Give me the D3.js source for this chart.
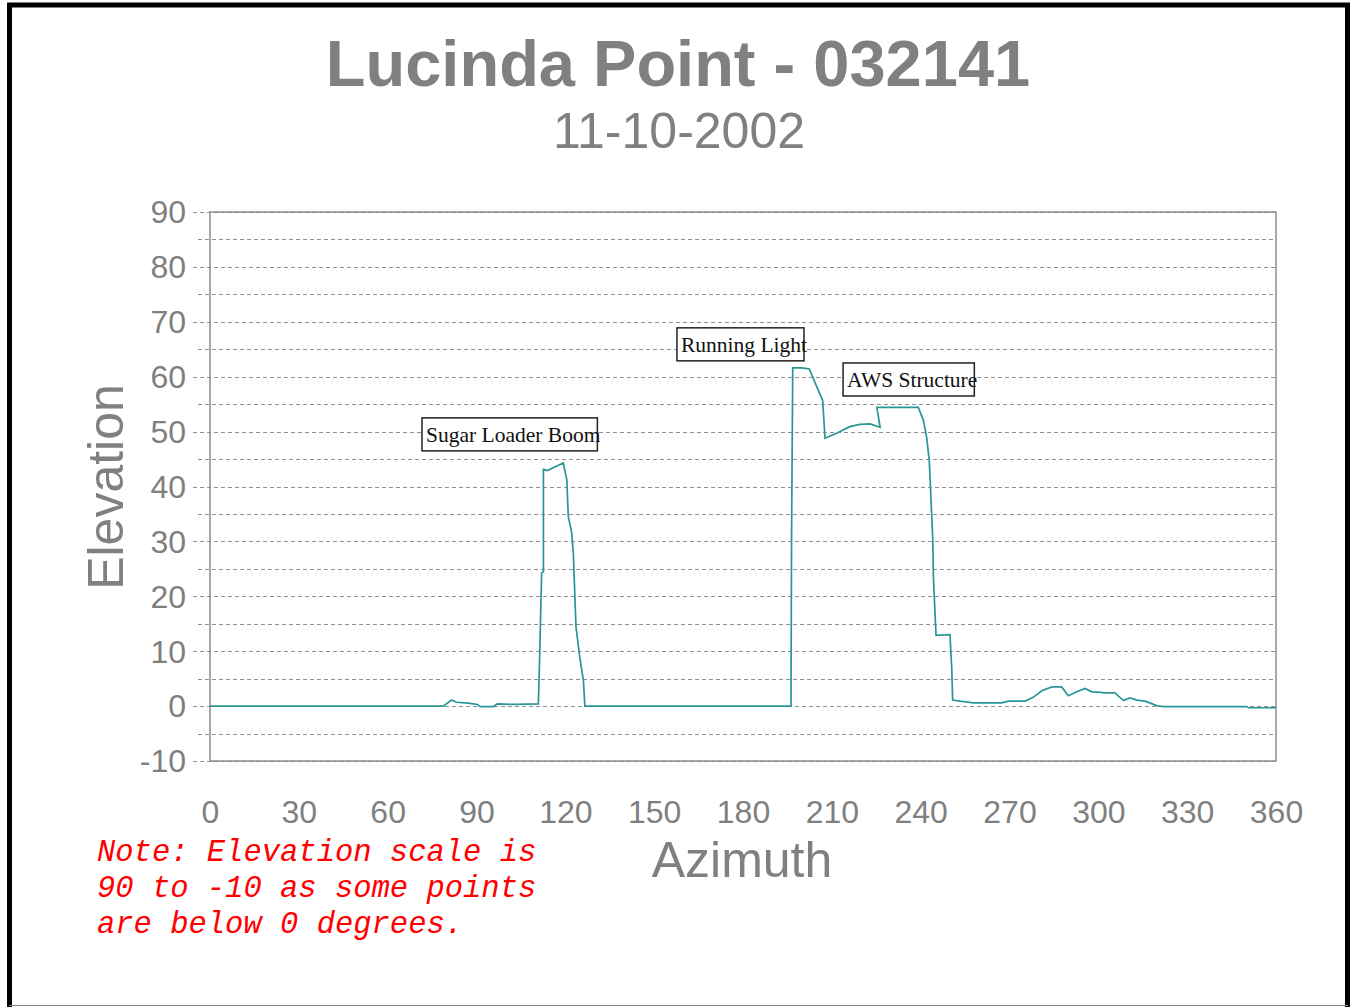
<!DOCTYPE html>
<html lang="en">
<head>
  <meta charset="UTF-8" />
  <title>Lucinda Point - 032141</title>
  <style>
    body { margin: 0; background: #fff; }
    svg { display: block; }
    .tick text { font-family: 'Liberation Sans', Arial, sans-serif; fill: #7f7f7f; }
    .grid { stroke: #8f8f8f; stroke-width: 1; stroke-dasharray: 4,3; }
    .frame { fill: none; stroke: #8c8c8c; stroke-width: 1.5; }
    .profile { fill: none; stroke: #2a9595; stroke-width: 1.7; }
    .label-box { fill: #fff; stroke: #222; stroke-width: 1.5; }
    .label-text { font-family: 'Liberation Serif', 'Times New Roman', serif; font-size: 21.5px; fill: #111; }
  </style>
  <script src="https://cdn.jsdelivr.net/npm/d3@7"></script>
</head>
<body>
<svg id="chart"></svg>
<script>
  // horizon profile, azimuth (deg) vs elevation (deg)
  const azimuth = [0, 78.8, 81.6, 83.3, 87.2, 90.3, 91.2, 95.7, 97, 103, 110.9, 111.2, 112, 112.6, 112.6, 113.9,
    119.3, 120.5, 121, 122.1, 122.7, 123.6, 125, 126.1, 126.6, 196.2, 196.4, 196.8, 199.8, 202.4, 204.9,
    206.9, 207.7, 211.6, 216.1, 219.5, 222.9, 226.3, 225.2, 239.2, 240.9, 242, 242.9, 243.7, 244.1, 244.3,
    244.9, 245.2, 249.9, 250.5, 250.8, 253.3, 257.8, 267.4, 269.6, 275.2, 278, 280.9, 284.3, 287.6, 289.9,
    292.7, 295.5, 297.8, 301.1, 301.7, 305.6, 308.5, 310.7, 313, 315.8, 319.7, 322, 350.1, 350.7, 360];
  const elevation = [0, 0, 1.1, 0.7, 0.55, 0.3, -0.1, -0.1, 0.4, 0.3, 0.4, 6.3, 24.2, 24.5, 43.1, 42.9,
    44.3, 41.2, 34.5, 31.8, 27.8, 14.4, 8.4, 4.7, 0, 0, 30.8, 61.6, 61.6, 61.4, 58.2,
    55.7, 48.8, 49.7, 50.9, 51.3, 51.4, 50.8, 54.4, 54.4, 52.1, 49, 44.8, 35.1, 30.2, 23.5,
    16.3, 12.9, 13, 6.8, 1.1, 0.9, 0.6, 0.6, 0.9, 0.9, 1.6, 2.8, 3.5, 3.5, 1.9,
    2.6, 3.2, 2.6, 2.5, 2.4, 2.4, 1.0, 1.5, 1.1, 0.9, 0.1, -0.1, -0.1, -0.3, -0.3];

  const xTicks = [0, 30, 60, 90, 120, 150, 180, 210, 240, 270, 300, 330, 360];
  const yTicks = [90, 80, 70, 60, 50, 40, 30, 20, 10, 0, -10];
  const yMinor = [85, 75, 65, 55, 45, 35, 25, 15, 5, -5];

  const labels = [
    { text: 'Sugar Loader Boom', az: 71.6, el: 52.5 },
    { text: 'Running Light', az: 157.7, el: 68.9 },
    { text: 'AWS Structure', az: 213.8, el: 62.5 }
  ];

  const noteLines = ['Note: Elevation scale is', '90 to -10 as some points', 'are below 0 degrees.'];

  const W = 1355, H = 1007;
  const svg = d3.select('#chart').attr('width', W).attr('height', H);
  svg.append('rect').attr('width', W).attr('height', H).attr('fill', '#fff');

  const plotL = 210, plotR = 1276, plotT = 212, plotB = 761;
  const x = d3.scaleLinear().domain([0, 360]).range([plotL, plotR]);
  const y = d3.scaleLinear().domain([-10, 90]).range([plotB, plotT]);
  const crisp = v => Math.round(v) + 0.5;

  // gridlines (dashed, extending a bit left of the frame)
  svg.append('g').selectAll('line').data(yTicks).join('line')
    .attr('class', 'grid')
    .attr('x1', plotL - 17).attr('x2', plotR)
    .attr('y1', d => crisp(y(d))).attr('y2', d => crisp(y(d)));
  svg.append('g').selectAll('line').data(yMinor).join('line')
    .attr('class', 'grid')
    .attr('x1', plotL - 12).attr('x2', plotR)
    .attr('y1', d => crisp(y(d))).attr('y2', d => crisp(y(d)));

  svg.append('rect').attr('class', 'frame')
    .attr('x', plotL).attr('y', plotT)
    .attr('width', plotR - plotL).attr('height', plotB - plotT);

  // axes
  const yAxis = svg.append('g')
    .attr('transform', `translate(${plotL - 24},0)`)
    .call(d3.axisLeft(y).tickValues(yTicks).tickSize(0).tickPadding(0).tickFormat(d => String(d)));
  yAxis.select('.domain').remove();
  yAxis.selectAll('text').attr('font-size', 32).attr('dy', '0.34em');

  const xAxis = svg.append('g')
    .attr('transform', `translate(0,${plotB})`)
    .call(d3.axisBottom(x).tickValues(xTicks).tickSize(0).tickPadding(0).tickFormat(d => String(d)));
  xAxis.select('.domain').remove();
  xAxis.selectAll('text').attr('font-size', 32).attr('dy', null).attr('y', 62);

  // profile line
  const pts = azimuth.map((a, i) => [a, elevation[i]]);
  svg.append('path').attr('class', 'profile')
    .attr('d', d3.line().x(d => x(d[0])).y(d => y(d[1]))(pts));

  // annotation boxes
  labels.forEach(l => {
    const g = svg.append('g');
    const t = g.append('text').attr('class', 'label-text')
      .attr('x', x(l.az) + 4).attr('y', y(l.el) + 24).text(l.text);
    const len = t.node().getComputedTextLength();
    g.insert('rect', 'text').attr('class', 'label-box')
      .attr('x', x(l.az)).attr('y', y(l.el))
      .attr('width', len + 1).attr('height', 33);
  });

  // titles
  const sans = "'Liberation Sans', Arial, sans-serif";
  svg.append('text').attr('x', 678).attr('y', 86).attr('text-anchor', 'middle')
    .attr('font-family', sans).attr('font-weight', 'bold')
    .attr('font-size', 65).attr('fill', '#808080').text('Lucinda Point - 032141');
  svg.append('text').attr('x', 679).attr('y', 148).attr('text-anchor', 'middle')
    .attr('font-family', sans)
    .attr('font-size', 50).attr('fill', '#808080').text('11-10-2002');

  svg.append('text').attr('x', 742).attr('y', 877).attr('text-anchor', 'middle')
    .attr('font-family', sans)
    .attr('font-size', 50).attr('fill', '#808080').text('Azimuth');
  svg.append('text').attr('transform', 'translate(123,487) rotate(-90)').attr('text-anchor', 'middle')
    .attr('font-family', sans)
    .attr('font-size', 50).attr('fill', '#808080').text('Elevation');

  // note
  svg.append('g').selectAll('text').data(noteLines).join('text')
    .attr('x', 97).attr('y', (d, i) => 861 + i * 36)
    .attr('font-family', "'Courier New', 'Liberation Mono', monospace")
    .attr('font-style', 'italic')
    .attr('font-size', 30.5).attr('fill', '#ff0000')
    .style('white-space', 'pre')
    .text(d => d);

  // outer border
  svg.append('path').attr('d', 'M9.5,1010 V5 H1347.5 V1010')
    .attr('fill', 'none').attr('stroke', '#000').attr('stroke-width', 5);
  svg.append('line').attr('x1', 9).attr('x2', 1348).attr('y1', 1005.5).attr('y2', 1005.5)
    .attr('stroke', '#888').attr('stroke-width', 1);
</script>
</body>
</html>
